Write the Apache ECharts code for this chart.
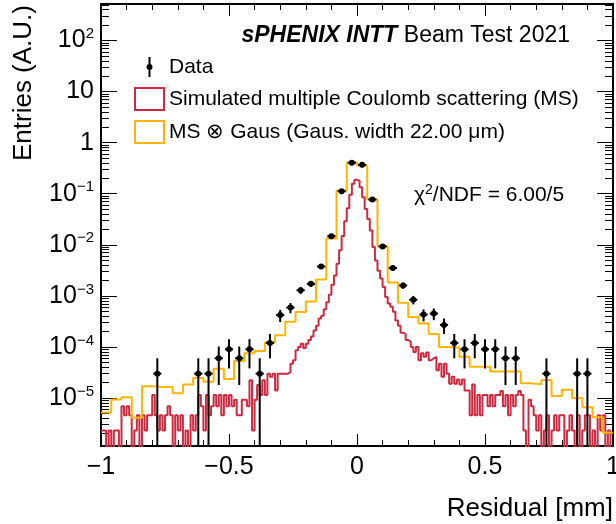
<!DOCTYPE html>
<html>
<head>
<meta charset="utf-8">
<script src="https://cdn.jsdelivr.net/npm/echarts@6.0.0/dist/echarts.min.js"></script>
<style>
    html, body { margin: 0; padding: 0; background: #fff; }
    #chart { width: 616px; height: 524px; }
</style>
</head>
<body>
<div id="chart"></div>
<script>
    'use strict';

    // axis ranges (y given as values, drawn on a log10 scale)
    var xRange = [-1, 1];
    var xTickStep = 0.5;
    var yRange = [1.15e-6, 518];
    var yDecades = [-5, -4, -3, -2, -1, 0, 1, 2];

    // data points : bin centre, entries, error
    var dataX = [-0.78, -0.62, -0.58, -0.54, -0.50, -0.46, -0.42, -0.38, -0.34, -0.30, -0.26, -0.22,
        -0.18, -0.14, -0.10, -0.06, -0.02, 0.02, 0.06, 0.10, 0.14, 0.18, 0.22, 0.26, 0.30, 0.34,
        0.38, 0.42, 0.46, 0.50, 0.54, 0.58, 0.62, 0.74, 0.86, 0.90];
    var dataY = [3.0e-5, 3.0e-5, 3.0e-5, 6.0e-5, 9.0e-5, 6.0e-5, 9.0e-5, 3.0e-5, 1.2e-4, 4.2e-4, 5.9e-4, 1.29e-3,
        1.72e-3, 3.75e-3, 0.0147, 0.112, 0.405, 0.367, 0.077, 0.0093, 3.5e-3, 1.6e-3, 8.4e-4, 4.3e-4, 4.5e-4, 2.7e-4,
        1.2e-4, 9.0e-5, 1.2e-4, 9.0e-5, 9.0e-5, 6.0e-5, 6.0e-5, 3.0e-5, 3.0e-5, 3.0e-5];
    var dataErr = [3.0e-5, 3.0e-5, 3.0e-5, 4.2e-5, 5.2e-5, 4.2e-5, 5.2e-5, 3.0e-5, 6.0e-5, 1.12e-4, 1.33e-4, 1.97e-4,
        2.27e-4, 3.35e-4, 6.6e-4, 1.83e-3, 3.49e-3, 3.32e-3, 1.52e-3, 5.3e-4, 3.24e-4, 2.19e-4, 1.59e-4, 1.14e-4, 1.16e-4, 9.0e-5,
        6.0e-5, 5.2e-5, 6.0e-5, 5.2e-5, 5.2e-5, 4.2e-5, 4.2e-5, 3.0e-5, 3.0e-5, 3.0e-5];
    var dataXErr = 0.016;

    // MS x Gaus, 50 bins over [-1, 1]
    var gausBins = [5.2e-6, 9.4e-6, 1.03e-5, 4.1e-6, 1.7e-5, 1.64e-5, 1.64e-5, 1.24e-5, 1.85e-5, 2.46e-5,
        2.08e-5, 3.73e-5, 2.35e-5, 5.3e-5, 7.5e-5, 8.3e-5, 1.22e-4, 1.7e-4, 3.1e-4, 4.85e-4,
        7.8e-4, 2.08e-3, 0.0133, 0.115, 0.41, 0.356, 0.078, 0.0093, 1.82e-3, 7.3e-4,
        3.87e-4, 2.88e-4, 1.8e-4, 1.0e-4, 9.8e-5, 6.4e-5, 4.1e-5, 4.1e-5, 3.3e-5, 3.3e-5,
        3.3e-5, 1.95e-5, 1.85e-5, 2.25e-5, 1.1e-5, 1.45e-5, 1.0e-5, 6.6e-6, 4.2e-6, 2.1e-6];

    // simulated multiple scattering, 200 bins over [-1, 1]
    var msBins = [
        2.3e-6, 2.3e-6, 0, 2.3e-6, 0, 2.3e-6, 2.3e-6, 0, 6.9e-6, 4.6e-6,
        6.9e-6, 4.6e-6, 0, 2.3e-6, 4.6e-6, 0, 4.6e-6, 2.3e-6, 4.6e-6, 4.6e-6,
        1.15e-5, 4.6e-6, 2.3e-6, 4.6e-6, 2.3e-6, 4.6e-6, 6.9e-6, 4.6e-6, 0, 4.6e-6,
        2.3e-6, 4.6e-6, 0, 2.3e-6, 0, 4.6e-6, 2.3e-6, 4.6e-6, 1.15e-5, 6.9e-6,
        2.3e-6, 1.15e-5, 4.6e-6, 6.9e-6, 1.15e-5, 6.9e-6, 1.15e-5, 4.6e-6, 1.15e-5, 6.9e-6,
        1.15e-5, 6.9e-6, 9.2e-6, 4.6e-6, 4.6e-6, 9.2e-6, 9.2e-6, 6.9e-6, 2.24e-5, 2.3e-6,
        9.2e-6, 1.8e-5, 1.15e-5, 2.24e-5, 1.15e-5, 3.0e-5, 2.6e-5, 3.0e-5, 1.4e-5, 3.0e-5,
        3.0e-5, 3.0e-5, 3.0e-5, 3.2e-5, 4.7e-5, 5.5e-5, 8.6e-5, 1.0e-4, 1.15e-4, 9.5e-5,
        1.15e-4, 1.37e-4, 1.6e-4, 2.1e-4, 2.6e-4, 3.6e-4, 4.1e-4, 5.5e-4, 7.5e-4, 1.05e-3,
        1.65e-3, 2.5e-3, 4.25e-3, 7.8e-3, 0.0148, 0.029, 0.052, 0.095, 0.156, 0.187,
        0.18, 0.134, 0.085, 0.05, 0.032, 0.019, 9.1e-3, 4.9e-3, 3.1e-3, 2.2e-3,
        1.5e-3, 9.5e-4, 7.1e-4, 6.1e-4, 4.9e-4, 3.3e-4, 2.6e-4, 1.9e-4, 1.8e-4, 1.37e-4,
        1.27e-4, 1.0e-4, 8.0e-5, 1.0e-4, 5.5e-5, 7.5e-5, 6.4e-5, 7.8e-5, 5.5e-5, 6.0e-5,
        6.4e-5, 3.5e-5, 4.7e-5, 2.6e-5, 4.7e-5, 3.0e-5, 1.9e-5, 2.6e-5, 1.9e-5, 2.3e-5,
        1.84e-5, 2.3e-5, 1.4e-5, 1.4e-5, 4.6e-6, 1.84e-5, 4.6e-6, 1.15e-5, 4.6e-6, 1.15e-5,
        1.15e-5, 6.9e-6, 1.15e-5, 6.9e-6, 1.15e-5, 1.15e-5, 1.38e-5, 6.9e-6, 1.15e-5, 4.6e-6,
        1.15e-5, 6.9e-6, 1.15e-5, 1.38e-5, 1.15e-5, 2.3e-6, 0, 9.2e-6, 6.9e-6, 4.6e-6,
        2.3e-6, 4.6e-6, 0, 2.3e-6, 4.6e-6, 0, 2.3e-6, 4.6e-6, 2.3e-6, 4.6e-6,
        4.6e-6, 0, 2.3e-6, 4.6e-6, 2.3e-6, 0, 4.6e-6, 0, 2.3e-6, 4.6e-6,
        4.6e-6, 0, 2.3e-6, 0, 4.6e-6, 2.3e-6, 4.6e-6, 0, 2.3e-6, 0];

    var names = {
        data: 'Data',
        ms: 'Simulated multiple Coulomb scattering (MS)',
        gaus: 'MS \u2297 Gaus (Gaus. width 22.00 \u03bcm)'
    };
    var titleText = '{b|sPHENIX INTT}{n| Beam Test 2021}';
    var chi2Text = '{n|\u03c7}{s|2}{n|/NDF = 6.00/5}';

    var RED = '#cc2a40';
    var ORANGE = '#ffb400';
    var FONT = 'Liberation Sans, Arial, Helvetica, sans-serif';
    var LOG_FLOOR = -9; // empty bins: below the frame

    function toLog(v) {
        return v > 0 ? Math.log10(v) : LOG_FLOOR;
    }

    // step outline of a histogram: left edge of each bin + closing right edge
    function histPoints(values) {
        var n = values.length;
        var w = (xRange[1] - xRange[0]) / n;
        var pts = [];
        for (var i = 0; i < n; i++) {
            pts.push([xRange[0] + i * w, toLog(values[i])]);
        }
        pts.push([xRange[1], toLog(values[n - 1])]);
        return pts;
    }

    function pointData() {
        return dataX.map(function(x, i) {
            var y = dataY[i], e = dataErr[i];
            return [x, toLog(y), toLog(y - e), toLog(y + e)];
        });
    }

    var yMinor = [];
    for (var d = -6; d <= 2; d++) {
        for (var k = 2; k <= 9; k++) {
            var lv = d + Math.log10(k);
            if (lv > Math.log10(yRange[0]) && lv < Math.log10(yRange[1])) yMinor.push(lv);
        }
    }

    function yLabel(v) {
        var e = Math.round(v);
        if (e === 0) return '{n|1}';
        if (e === 1) return '{n|10}';
        return '{n|10}{s|' + (e < 0 ? '\u2212' + (-e) : e) + '}';
    }

    function xLabel(v) {
        return v < 0 ? '\u2212' + Math.abs(v) : String(v);
    }

    function renderPoint(params, api) {
        var x = api.value(0);
        var c = api.coord([x, api.value(1)]);
        var lo = api.coord([x, api.value(2)]);
        var hi = api.coord([x, api.value(3)]);
        var l = api.coord([x - dataXErr, api.value(1)]);
        var r = api.coord([x + dataXErr, api.value(1)]);
        var ls = { stroke: '#000', lineWidth: 2 };
        return {
            type: 'group',
            children: [
                { type: 'line', shape: { x1: lo[0], y1: lo[1], x2: hi[0], y2: hi[1] }, style: ls },
                { type: 'line', shape: { x1: l[0], y1: l[1], x2: r[0], y2: r[1] }, style: ls },
                { type: 'circle', shape: { cx: c[0], cy: c[1], r: 3 }, style: { fill: '#000' } }
            ]
        };
    }

    function xAxisOpt(pos) {
        return {
            type: 'value', position: pos, min: xRange[0], max: xRange[1], interval: xTickStep,
            axisLine: { onZero: false, lineStyle: { color: '#000', width: 2 } },
            axisTick: { inside: true, length: 12, lineStyle: { color: '#000', width: 1 } },
            minorTick: { show: true, splitNumber: 5, length: 6, lineStyle: { color: '#000', width: 1 } },
            axisLabel: pos === 'bottom' ? {
                show: true, formatter: xLabel, fontSize: 25, fontFamily: FONT, color: '#000', margin: 9,
                showMinLabel: true, showMaxLabel: true
            } : { show: false },
            splitLine: { show: false }
        };
    }

    function yAxisOpt(pos, major) {
        var lo = Math.log10(yRange[0]), hi = Math.log10(yRange[1]);
        return {
            type: 'value', position: pos, min: lo, max: hi,
            axisLine: { show: major, onZero: false, lineStyle: { color: '#000', width: 2 } },
            axisTick: {
                inside: true, length: major ? 16 : 8,
                customValues: major ? yDecades : yMinor,
                lineStyle: { color: '#000', width: 1 }
            },
            axisLabel: (major && pos === 'left') ? {
                show: true, customValues: yDecades, formatter: yLabel, margin: 7,
                rich: {
                    n: { fontSize: 25, lineHeight: 28, fontFamily: FONT, color: '#000' },
                    s: { fontSize: 15, lineHeight: 15, fontFamily: FONT, color: '#000', verticalAlign: 'top' }
                }
            } : { show: false },
            splitLine: { show: false }
        };
    }

    var chart = echarts.init(document.getElementById('chart'));

    chart.setOption({
        animation: false,
        backgroundColor: '#fff',
        grid: { left: 101, right: 3, top: 4, bottom: 78, containLabel: false, outerBoundsMode: 'none' },
        xAxis: [xAxisOpt('bottom'), xAxisOpt('top')],
        yAxis: [yAxisOpt('left', true), yAxisOpt('left', false), yAxisOpt('right', true), yAxisOpt('right', false)],
        legend: {
            left: 134, top: 56, orient: 'vertical', padding: 0,
            itemWidth: 29, itemHeight: 22, itemGap: 9,
            textStyle: { fontSize: 21, fontFamily: FONT, color: '#000', lineHeight: 22 },
            data: [
                {
                    name: names.data,
                    icon: 'path://M0,0L0.1,0M29,22L28.9,22M13.5,1L15.5,1L15.5,21L13.5,21ZM14.5,8A3,3,0,1,1,14.5,14A3,3,0,1,1,14.5,8Z',
                    itemStyle: { color: '#000', borderWidth: 0 }
                },
                { name: names.ms, icon: 'rect', itemStyle: { color: 'rgba(0,0,0,0)', borderColor: RED, borderWidth: 2 } },
                { name: names.gaus, icon: 'rect', itemStyle: { color: 'rgba(0,0,0,0)', borderColor: ORANGE, borderWidth: 2 } }
            ]
        },
        graphic: [
            {
                type: 'text', x: 570, y: 36,
                style: {
                    text: titleText, textAlign: 'right', textVerticalAlign: 'middle',
                    rich: {
                        b: { fontSize: 23, fontFamily: FONT, fontWeight: 'bold', fontStyle: 'italic', fill: '#000' },
                        n: { fontSize: 23, fontFamily: FONT, fill: '#000' }
                    }
                }
            },
            {
                type: 'text', x: 414, y: 195,
                style: {
                    text: chi2Text, textAlign: 'left', textVerticalAlign: 'middle',
                    rich: {
                        n: { fontSize: 21, lineHeight: 24, fontFamily: FONT, fill: '#000' },
                        s: { fontSize: 14, lineHeight: 14, fontFamily: FONT, fill: '#000', verticalAlign: 'top' }
                    }
                }
            },
            {
                type: 'text', x: 24, y: 5, rotation: Math.PI / 2,
                style: { text: 'Entries (A.U.)', font: '26px ' + FONT, fill: '#000', textAlign: 'right', textVerticalAlign: 'middle' }
            },
            {
                type: 'text', x: 613, y: 509,
                style: { text: 'Residual [mm]', font: '26px ' + FONT, fill: '#000', textAlign: 'right', textVerticalAlign: 'middle' }
            }
        ],
        series: [
            {
                name: names.ms, type: 'line', step: 'end', data: histPoints(msBins),
                symbol: 'none', clip: true, z: 2,
                lineStyle: { color: RED, width: 2 }, itemStyle: { color: RED }
            },
            {
                name: names.gaus, type: 'line', step: 'end', data: histPoints(gausBins),
                symbol: 'none', clip: true, z: 3,
                lineStyle: { color: ORANGE, width: 2 }, itemStyle: { color: ORANGE }
            },
            {
                name: names.data, type: 'custom', data: pointData(), renderItem: renderPoint,
                encode: { x: 0, y: 1 }, clip: true, z: 4, itemStyle: { color: '#000' }
            }
        ]
    });
</script>
</body>
</html>
